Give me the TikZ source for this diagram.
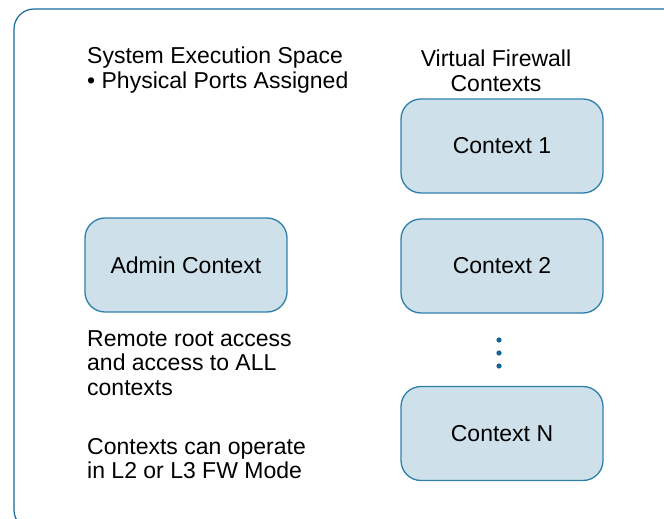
\documentclass[tikz,border=0pt]{standalone}
\usepackage{fontspec}
\setmainfont{Liberation Sans}
\usepackage{tikz}
\usetikzlibrary{positioning}
\definecolor{ctxfill}{RGB}{206,225,234}
\definecolor{ctxline}{RGB}{46,128,170}
\definecolor{frameline}{RGB}{22,106,152}
\definecolor{dotblue}{RGB}{16,100,150}

\begin{document}
\begin{tikzpicture}[x=1pt,y=-1pt,every node/.style = {font=\fontsize{23}{24.5}\selectfont, text=black},ctx box/.style = {shape = rectangle, rounded corners=20pt, fill = ctxfill, draw = ctxline, line width=1.3pt, minimum width = 202pt, minimum height = 94pt, align = center},note/.style = {inner sep=0pt, align=left, anchor=north west}]
\useasboundingbox (0,0) rectangle (664,519);
\draw[frameline, line width=1.2pt, rounded corners=20pt] (14,9) rectangle (690,530);
\node[note](sys) at (87,47) {System Execution Space\\\textbullet\ Physical Ports Assigned};
  \node[inner sep=0pt, align=center, anchor=north](vfw) at (496,50) {Virtual Firewall\\Contexts};
  \node[ctx box](c;1) at (502,146) {Context 1};
  \node[ctx box](c;2) at (502,266) {Context 2};
  \node[ctx box](c;N) at (502,433.5) {Context N};
  \node[ctx box](a;0) at (186,265) {Admin Context};
  \node[note](remote) at (87,330) {Remote root access\\and access to ALL\\contexts};
  \node[note](mode) at (87,438) {Contexts can operate\\in L2 or L3 FW Mode};

\foreach \j in {340,353,366}
  { \fill[dotblue] (499,\j) circle (2.6pt); }

\end{tikzpicture}
\end{document}
